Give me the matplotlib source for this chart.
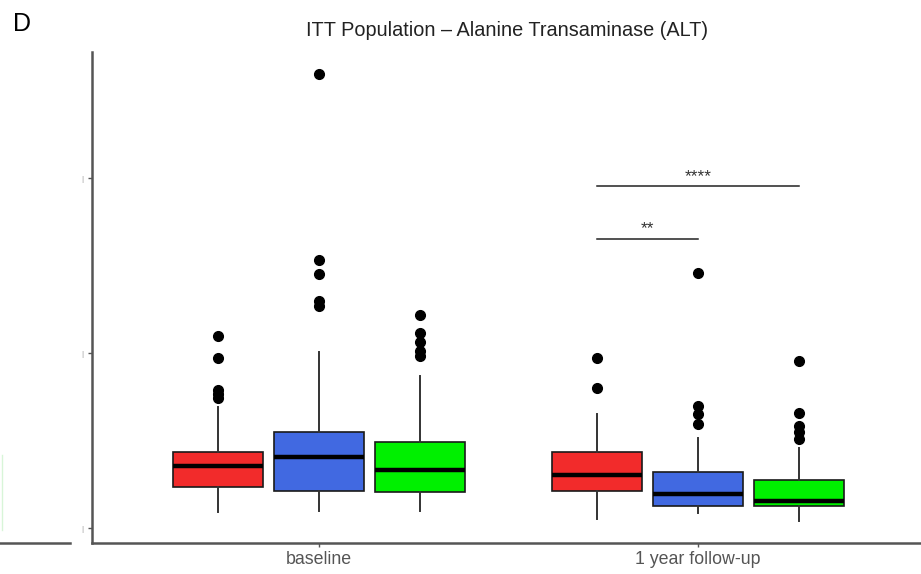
import matplotlib
matplotlib.use("Agg")
import matplotlib.pyplot as plt
from matplotlib.lines import Line2D

plt.rcParams['font.family'] = ['Liberation Sans', 'DejaVu Sans']

# ---- data ----
timepoints = ["baseline", "1 year follow-up"]
groups = ["A", "B", "C"]
colors = ["#F22B2B", "#4169E1", "#00F000"]

# per timepoint, per group: [whislo, q1, median, q3, whishi]
baseline_stats = [
    [9.0, 23.6, 35.6, 43.3, 69.0],
    [9.5, 21.0, 40.4, 54.7, 100.4],
    [9.5, 20.4, 33.1, 49.3, 87.0],
]
followup_stats = [
    [5.1, 21.0, 30.5, 43.3, 65.1],
    [8.4, 12.7, 19.4, 31.8, 51.3],
    [4.2, 12.7, 15.3, 27.4, 45.5],
]
baseline_outliers = [
    [109.9, 97.0, 79.0, 76.6, 74.3],
    [259.4, 153.1, 145.5, 129.9, 127.0],
    [121.7, 111.8, 106.1, 101.3, 98.5],
]
followup_outliers = [
    [97.0, 80.0],
    [146.1, 69.9, 65.1, 59.4],
    [95.6, 65.5, 58.5, 54.7, 50.9],
]
y_ticks = [0, 100, 200]
y_ticklabels = ["|", "|", "|"]

# significance brackets (follow-up): (group_from, group_to, height, label)
sig_brackets = [(0, 2, 195.3, "****"), (0, 1, 165.5, "**")]

# ---- figure ----
W, H = 921, 574
fig = plt.figure(figsize=(W / 100, H / 100), dpi=100)
ax_l, ax_r, ax_t, ax_b = 92, 925, 52, 543
ax = fig.add_axes([ax_l / W, 1 - ax_b / H, (ax_r - ax_l) / W, (ax_b - ax_t) / H])

dodge = 0.267
bw = 0.237
all_stats = [baseline_stats, followup_stats]
all_out = [baseline_outliers, followup_outliers]
for ti, (stats, outs) in enumerate(zip(all_stats, all_out)):
    for gi in range(3):
        s = stats[gi]
        d = dict(whislo=s[0], q1=s[1], med=s[2], q3=s[3], whishi=s[4], fliers=outs[gi])
        pos = ti + 1 + (gi - 1) * dodge
        ax.bxp([d], positions=[pos], widths=bw, patch_artist=True, showcaps=False,
               boxprops=dict(facecolor=colors[gi], edgecolor="#1a1a1a", linewidth=1.2),
               medianprops=dict(color="black", linewidth=3.2, solid_capstyle="butt"),
               whiskerprops=dict(color="#333333", linewidth=1.4),
               flierprops=dict(marker="o", markerfacecolor="black", markeredgecolor="black",
                               markersize=7))

for g0, g1, h, lab in sig_brackets:
    x0 = 2 + (g0 - 1) * dodge
    x1 = 2 + (g1 - 1) * dodge
    ax.plot([x0, x1], [h, h], color="#222222", linewidth=1.1)
    ax.text((x0 + x1) / 2, h + 1.5, lab, ha="center", va="bottom", fontsize=12.5, color="#333333")

ax.set_xlim(0.4, 2.6)
ax.set_ylim(-8.56, 272.2)
ax.set_xticks([1, 2])
ax.set_xticklabels(timepoints, fontsize=12.8, color="#555555")
ax.set_yticks(y_ticks)
ax.set_yticklabels(y_ticklabels, fontsize=6, color="#999999")
for sp in ["top", "right"]:
    ax.spines[sp].set_visible(False)
for sp in ["left", "bottom"]:
    ax.spines[sp].set_color("#555555")
    ax.spines[sp].set_linewidth(1.8)
ax.tick_params(axis="both", length=3, width=1, color="#555555", pad=3)
ax.set_facecolor("white")

fig.text(507 / W, 1 - 31 / H, "ITT Population \u2013 Alanine Transaminase (ALT)",
         ha="center", va="center", fontsize=14.3, color="#222222")
fig.text(13 / W, 1 - 24 / H, "D", ha="left", va="center", fontsize=18, color="black")

# fragment of neighbouring panel at left edge
fig.add_artist(Line2D([0, 70 / W], [1 - 543 / H, 1 - 543 / H], color="#555555", linewidth=1.8))
fig.add_artist(Line2D([1.5 / W, 1.5 / W], [1 - 530 / H, 1 - 455 / H], color="#d8f5d8", linewidth=1))

fig.savefig("out.png", dpi=100, facecolor="white")
